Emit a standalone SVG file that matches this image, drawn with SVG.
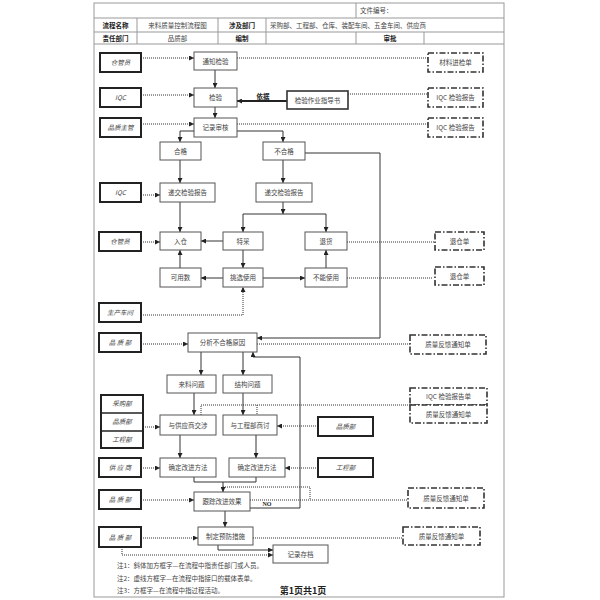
<svg xmlns="http://www.w3.org/2000/svg" width="600" height="600" viewBox="0 0 600 600">
<defs>
<marker id="a" viewBox="0 0 10 10" refX="10" refY="5" markerWidth="5" markerHeight="5" markerUnits="userSpaceOnUse" orient="auto"><path d="M0,0 L10,5 L0,10 z" fill="#222"/></marker>
<style>
.t{font-family:"Noto Sans CJK SC","Liberation Sans",sans-serif;font-size:6.5px;fill:#444;text-anchor:middle}
.i{font-style:italic}
.b{font-weight:bold;fill:#222}
.proc{fill:#fff;stroke:#555;stroke-width:1}
.role{fill:#fff;stroke:#222;stroke-width:2}
.form{fill:#fff;stroke:#333;stroke-width:1.6;stroke-dasharray:6 2 1.5 2}
.s{fill:none;stroke:#333;stroke-width:1}
.sa{fill:none;stroke:#333;stroke-width:1;marker-end:url(#a)}
.d{fill:none;stroke:#333;stroke-width:1;stroke-dasharray:1 1}
.da{fill:none;stroke:#333;stroke-width:1;stroke-dasharray:1 1;marker-end:url(#a)}
.g{fill:none;stroke:#999;stroke-width:1}
</style>
</defs>
<rect width="600" height="600" fill="#fff"/>
<g id="frame">
<rect x="94" y="3" width="410" height="594" class="g"/>
<line x1="94" y1="18" x2="504" y2="18" class="g"/>
<line x1="94" y1="32" x2="504" y2="32" class="g"/>
<line x1="94" y1="44" x2="504" y2="44" class="g"/>
<line x1="356" y1="3" x2="356" y2="18" class="g"/>
<line x1="137" y1="18" x2="137" y2="44" class="g"/>
<line x1="218" y1="18" x2="218" y2="44" class="g"/>
<line x1="266" y1="18" x2="266" y2="44" class="g"/>
<line x1="356" y1="32" x2="356" y2="44" class="g"/>
<line x1="424" y1="32" x2="424" y2="44" class="g"/>
<text x="360" y="13" class="t" style="text-anchor:start">文件编号：</text>
<text x="115.5" y="27.5" class="t b">流程名称</text>
<text x="177.5" y="27.5" class="t">来料质量控制流程图</text>
<text x="242" y="27.5" class="t b">涉及部门</text>
<text x="270" y="27.5" class="t" style="text-anchor:start">采购部、工程部、仓库、装配车间、五金车间、供应商</text>
<text x="115.5" y="40.5" class="t b">责任部门</text>
<text x="177.5" y="40.5" class="t">品质部</text>
<text x="242" y="40.5" class="t b">编制</text>
<text x="390" y="40.5" class="t b">审批</text>
</g>
<g id="connectors">
<line x1="215" y1="70" x2="215" y2="88" class="sa"/>
<line x1="215" y1="107" x2="215" y2="118" class="sa"/>
<polyline points="194,131 180,131 180,142" class="sa"/>
<polyline points="237,131 283,131 283,142" class="sa"/>
<line x1="180" y1="160" x2="180" y2="183" class="sa"/>
<line x1="283" y1="160" x2="283" y2="183" class="sa"/>
<polyline points="305,153 380,153 380,338 257,338" class="sa"/>
<line x1="283" y1="202" x2="283" y2="214" class="sa"/>
<line x1="243" y1="214" x2="326" y2="214" class="s"/>
<line x1="243" y1="214" x2="243" y2="232" class="sa"/>
<line x1="326" y1="214" x2="326" y2="232" class="sa"/>
<line x1="180" y1="202" x2="180" y2="232" class="sa"/>
<line x1="223" y1="241" x2="201" y2="241" class="sa"/>
<line x1="180" y1="268" x2="180" y2="250" class="sa"/>
<line x1="243" y1="250" x2="243" y2="268" class="sa"/>
<line x1="223" y1="278" x2="201" y2="278" class="sa"/>
<line x1="263" y1="278" x2="305" y2="278" class="sa"/>
<line x1="326" y1="268" x2="326" y2="250" class="sa"/>
<line x1="287" y1="101" x2="237" y2="101" style="fill:none;stroke:#222;stroke-width:2;marker-end:url(#a)"/>
<text x="263" y="99" class="t b">依据</text>
<line x1="201" y1="352" x2="201" y2="375" class="sa"/>
<line x1="243" y1="352" x2="243" y2="375" class="sa"/>
<line x1="194" y1="393" x2="194" y2="415" class="sa"/>
<line x1="243" y1="393" x2="243" y2="415" class="sa"/>
<line x1="180" y1="435" x2="180" y2="458" class="sa"/>
<line x1="256" y1="435" x2="256" y2="458" class="sa"/>
<polyline points="194,477 194,482 256,482 256,477" class="s"/>
<line x1="223" y1="482" x2="223" y2="492" class="sa"/>
<polyline points="250,508 300,508 300,357 253,357 253,352" class="sa"/>
<text x="267" y="506" class="t b" style="font-family:'Liberation Serif',serif;font-size:6px">NO</text>
<line x1="225" y1="511" x2="225" y2="527" class="sa"/>
<polyline points="218,545 218,550 273,550" class="sa"/>
<line x1="141" y1="58" x2="194" y2="58" class="da"/>
<line x1="237" y1="58" x2="428" y2="58" class="d"/>
<line x1="141" y1="95" x2="194" y2="95" class="da"/>
<line x1="348" y1="94" x2="428" y2="94" class="d"/>
<line x1="141" y1="124" x2="194" y2="124" class="da"/>
<line x1="237" y1="124" x2="428" y2="124" class="d"/>
<line x1="141" y1="195" x2="160" y2="195" class="da"/>
<line x1="141" y1="242" x2="160" y2="242" class="da"/>
<line x1="347" y1="242" x2="435" y2="242" class="d"/>
<line x1="347" y1="278" x2="433" y2="278" class="d"/>
<polyline points="141,315 243,315 243,287" class="da"/>
<line x1="141" y1="344" x2="188" y2="344" class="da"/>
<line x1="257" y1="344" x2="410" y2="344" class="d"/>
<polyline points="410,405 201,405 201,415" class="d"/>
<line x1="257" y1="405" x2="257" y2="415" class="d"/>
<line x1="143" y1="427" x2="160" y2="427" class="da"/>
<line x1="318" y1="426" x2="277" y2="426" class="da"/>
<line x1="141" y1="468" x2="160" y2="468" class="da"/>
<line x1="318" y1="468" x2="285" y2="468" class="da"/>
<line x1="141" y1="500" x2="194" y2="500" class="da"/>
<line x1="250" y1="500" x2="408" y2="500" class="d"/>
<polyline points="223,487 310,487 310,500" class="d"/>
<line x1="141" y1="538" x2="198" y2="538" class="da"/>
<line x1="253" y1="538" x2="403" y2="538" class="d"/>
<polyline points="122,547 122,555 273,555" class="da"/>
</g>
<g id="n1"><rect x="100" y="53" width="41" height="19" class="role"/><text x="120.5" y="65" class="t i">仓管员</text></g>
<g id="n2"><rect x="100" y="88" width="41" height="19" class="role"/><text x="120.5" y="100" class="t i">IQC</text></g>
<g id="n3"><rect x="100" y="118" width="41" height="19" class="role"/><text x="120.5" y="130" class="t i">品质主管</text></g>
<g id="n4"><rect x="100" y="183" width="41" height="19" class="role"/><text x="120.5" y="195" class="t i">IQC</text></g>
<g id="n5"><rect x="99" y="232" width="42" height="19" class="role"/><text x="120" y="244" class="t i">仓管员</text></g>
<g id="n6"><rect x="99" y="303" width="42" height="19" class="role"/><text x="120" y="315" class="t i">生产车间</text></g>
<g id="n7"><rect x="99" y="333" width="42" height="19" class="role"/><text x="120" y="345" class="t i">品 质 部</text></g>
<g id="n8"><rect x="101" y="395" width="42" height="53" class="role"/><line x1="101" y1="413" x2="143" y2="413" stroke="#222" stroke-width="1.5"/><line x1="101" y1="431" x2="143" y2="431" stroke="#222" stroke-width="1.5"/><text x="122" y="406" class="t i">采购部</text><text x="122" y="424" class="t i">品质部</text><text x="122" y="442" class="t i">工程部</text></g>
<g id="n9"><rect x="99" y="458" width="42" height="19" class="role"/><text x="120" y="470" class="t i">供 应 商</text></g>
<g id="n10"><rect x="99" y="490" width="42" height="19" class="role"/><text x="120" y="502" class="t i">品 质 部</text></g>
<g id="n11"><rect x="99" y="527" width="42" height="20" class="role"/><text x="120" y="540" class="t i">品 质 部</text></g>
<g id="n12"><rect x="318" y="417" width="55" height="19" class="role"/><text x="345.5" y="429" class="t i">品质部</text></g>
<g id="n13"><rect x="318" y="458" width="55" height="19" class="role"/><text x="345.5" y="470" class="t i">工程部</text></g>
<g id="p1"><rect x="194" y="52" width="43" height="18" class="proc"/><text x="215.5" y="63.5" class="t">通知检验</text></g>
<g id="p2"><rect x="194" y="88" width="43" height="19" class="proc"/><text x="215.5" y="100" class="t">检验</text></g>
<g id="p3"><rect x="287" y="91" width="61" height="18" class="proc" style="stroke-width:1.6;stroke:#333"/><text x="317.5" y="102.5" class="t">检验作业指导书</text></g>
<g id="p4"><rect x="194" y="118" width="43" height="19" class="proc"/><text x="215.5" y="130" class="t">记录审核</text></g>
<g id="p5"><rect x="160" y="142" width="41" height="18" class="proc"/><text x="180.5" y="153.5" class="t">合格</text></g>
<g id="p6"><rect x="263" y="142" width="42" height="18" class="proc"/><text x="284" y="153.5" class="t">不合格</text></g>
<g id="p7"><rect x="160" y="183" width="55" height="19" class="proc"/><text x="187.5" y="195" class="t">递交检验报告</text></g>
<g id="p8"><rect x="256" y="183" width="56" height="19" class="proc"/><text x="284" y="195" class="t">递交检验报告</text></g>
<g id="p9"><rect x="160" y="232" width="41" height="18" class="proc"/><text x="180.5" y="243.5" class="t">入仓</text></g>
<g id="p10"><rect x="223" y="232" width="40" height="18" class="proc"/><text x="243" y="243.5" class="t">特采</text></g>
<g id="p11"><rect x="305" y="232" width="42" height="18" class="proc"/><text x="326" y="243.5" class="t">退货</text></g>
<g id="p12"><rect x="160" y="268" width="41" height="19" class="proc"/><text x="180.5" y="280" class="t">可用数</text></g>
<g id="p13"><rect x="223" y="268" width="40" height="19" class="proc"/><text x="243" y="280" class="t">挑选使用</text></g>
<g id="p14"><rect x="305" y="268" width="42" height="19" class="proc"/><text x="326" y="280" class="t">不能使用</text></g>
<g id="p15"><rect x="188" y="333" width="69" height="19" class="proc"/><text x="222.5" y="345" class="t">分析不合格原因</text></g>
<g id="p16"><rect x="167" y="375" width="49" height="18" class="proc"/><text x="191.5" y="386.5" class="t">来料问题</text></g>
<g id="p17"><rect x="223" y="375" width="49" height="18" class="proc"/><text x="247.5" y="386.5" class="t">结构问题</text></g>
<g id="p18"><rect x="160" y="415" width="56" height="20" class="proc"/><text x="188" y="427.5" class="t">与供应商交涉</text></g>
<g id="p19"><rect x="223" y="415" width="54" height="20" class="proc"/><text x="250" y="427.5" class="t">与工程部商讨</text></g>
<g id="p20"><rect x="160" y="458" width="56" height="19" class="proc"/><text x="188" y="470" class="t">确定改进方法</text></g>
<g id="p21"><rect x="229" y="458" width="56" height="19" class="proc"/><text x="257" y="470" class="t">确定改进方法</text></g>
<g id="p22"><rect x="194" y="492" width="56" height="19" class="proc"/><text x="222" y="504" class="t">跟踪改进效果</text></g>
<g id="p23"><rect x="198" y="527" width="55" height="18" class="proc"/><text x="225.5" y="538.5" class="t">制定预防措施</text></g>
<g id="p24"><rect x="273" y="545" width="55" height="18" class="proc"/><text x="300.5" y="556.5" class="t">记录存档</text></g>
<g id="f1"><rect x="428" y="53" width="55" height="19" class="form"/><text x="455.5" y="65" class="t">材料进检单</text></g>
<g id="f2"><rect x="428" y="88" width="55" height="19" class="form"/><text x="455.5" y="100" class="t">IQC 检验报告</text></g>
<g id="f3"><rect x="428" y="118" width="55" height="19" class="form"/><text x="455.5" y="130" class="t">IQC 检验报告</text></g>
<g id="f4"><rect x="435" y="232" width="49" height="18" class="form"/><text x="459.5" y="243.5" class="t">退仓单</text></g>
<g id="f5"><rect x="435" y="267" width="49" height="18" class="form"/><text x="459.5" y="278.5" class="t">退仓单</text></g>
<g id="f6"><rect x="410" y="335" width="76" height="19" class="form"/><text x="448" y="347" class="t">质量反馈通知单</text></g>
<g id="f7"><rect x="410" y="388" width="77" height="17" class="form"/><text x="448.5" y="399" class="t">IQC 检验报告单</text></g>
<g id="f8"><rect x="410" y="405" width="77" height="18" class="form"/><text x="448.5" y="416.5" class="t">质量反馈通知单</text></g>
<g id="f9"><rect x="408" y="488" width="76" height="20" class="form"/><text x="446" y="500.5" class="t">质量反馈通知单</text></g>
<g id="f10"><rect x="403" y="527" width="77" height="18" class="form"/><text x="441.5" y="538.5" class="t">质量反馈通知单</text></g>
<g id="notes">
<text x="117" y="568" class="t" style="text-anchor:start">注1：斜体加方框字—在流程中指责任部门或人员。</text>
<text x="117" y="580.5" class="t" style="text-anchor:start">注2：虚线方框字—在流程中指接口的载体表单。</text>
<text x="117" y="593" class="t" style="text-anchor:start">注3：方框字—在流程中指过程活动。</text>
<text x="303" y="594" class="t b" style="font-size:9px">第1页共1页</text>
</g>
</svg>
